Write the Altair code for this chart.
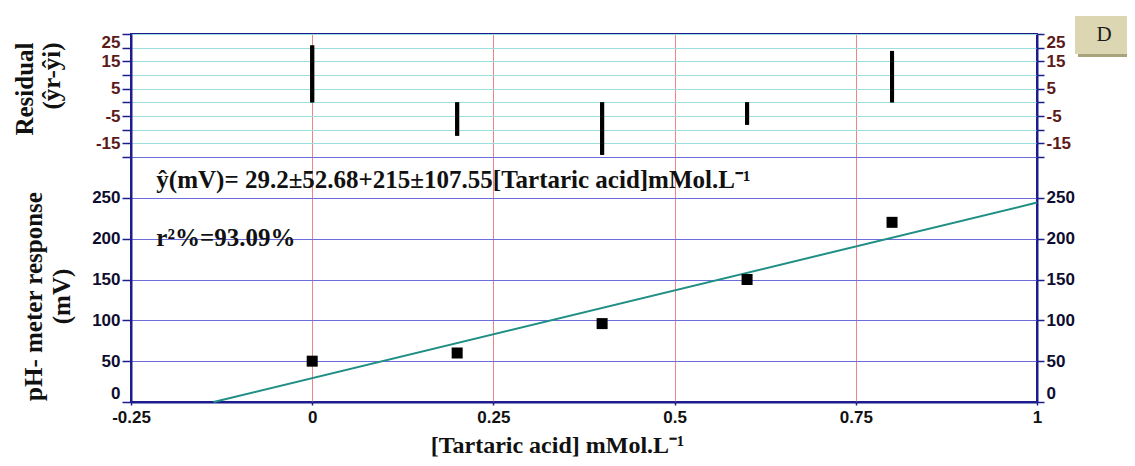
import altair as alt
import pandas as pd

# ---- data ----
conc = [0.0, 0.2, 0.4, 0.6, 0.8]
response = [50, 60, 96, 150, 220]
residual = [20.8, -12.2, -19.2, -8.2, 18.8]
fit_x = [-0.136, 1.0]
fit_y = [0.0, 244.2]

x_ticks = [-0.25, 0, 0.25, 0.5, 0.75, 1]
resp_ticks = [0, 50, 100, 150, 200, 250, 300]
res_ticks = [-15, -10, -5, 0, 5, 10, 15, 20, 25]

eq_text = "ŷ(mV)= 29.2±52.68+215±107.55[Tartaric acid]mMol.L⁻¹"
r2_text = "r²%=93.09%"
text_x = [-0.215, -0.215]
text_y = [262, 191]

W, H = 906, 368
TOP_H = 123

AX = "#1c1c8c"
SERIF = "Liberation Serif"
SANS = "Liberation Sans"

pts_df = pd.DataFrame({"conc": conc, "resp": response})
res_df = pd.DataFrame({"conc": conc, "res": residual})
fit_df = pd.DataFrame({"fx": fit_x, "fy": fit_y})
txt_df = pd.DataFrame({"tx": text_x, "ty": text_y, "label": [eq_text, r2_text]})
xt_df = pd.DataFrame({"v": x_ticks})
tag_df = pd.DataFrame({"tag": ["D"]})

x_scale = alt.Scale(domain=[-0.25, 1], nice=False, zero=False)
resp_scale = alt.Scale(domain=[0, 300], range=[H, TOP_H], nice=False, zero=False)
res_scale = alt.Scale(domain=[-20, 25], range=[TOP_H, 0], nice=False, zero=False)

common = dict(domainColor=AX, domainWidth=2, tickColor=AX, tickWidth=1.5,
              labelFont=SANS, labelFontWeight="bold", labelFontSize=17,
              labelOverlap=False)

x_axis = alt.Axis(orient="bottom", values=x_ticks, labelExpr="toString(datum.value)",
                  grid=True, gridColor="#f08585", gridWidth=1, tickSize=3,
                  labelPadding=4, labelColor="#111111", labelFlush=False,
                  title="[Tartaric acid] mMol.L⁻¹",
                  titleFont=SERIF, titleFontSize=24, titleFontWeight="bold",
                  titleColor="#111111", titleX=426, titleY=50, titleAlign="center",
                  titleBaseline="alphabetic", **common)

resp_left = alt.Axis(orient="left", values=resp_ticks,
                     labelExpr="datum.value > 250 ? '' : toString(datum.value)",
                     grid=True, gridColor="#6c6cdc", gridWidth=1, tickSize=9,
                     labelPadding=2, labelColor="#0d0d30", labelFlush=True,
                     title=["pH- meter response", "(mV)"], titleFont=SERIF,
                     titleFontSize=25, titleFontWeight="bold", titleColor="#111111",
                     titleAngle=270, titleX=-90, titleY=262, titleAlign="center",
                     titleBaseline="alphabetic", titleLineHeight=28, **common)
resp_right = alt.Axis(orient="right", values=resp_ticks,
                      labelExpr="datum.value > 250 ? '' : toString(datum.value)",
                      grid=False, tickSize=7, labelPadding=2, labelColor="#0d0d30",
                      labelFlush=True, title=None, **common)

res_label_expr = "abs(datum.value) % 10 == 5 ? toString(datum.value) : ''"
res_left = alt.Axis(orient="left", values=res_ticks, labelExpr=res_label_expr,
                    grid=True, gridColor="#9adede", gridWidth=1, tickSize=9,
                    labelPadding=2, labelColor="#5c1a1a", labelFlush=True,
                    title=["Residual", "(ŷr-ŷi)"], titleFont=SERIF,
                    titleFontSize=25, titleFontWeight="bold", titleColor="#111111",
                    titleAngle=270, titleX=-99, titleY=8, titleAlign="right",
                    titleBaseline="alphabetic", titleLineHeight=27, **common)
res_right = alt.Axis(orient="right", values=res_ticks, labelExpr=res_label_expr,
                     grid=False, tickSize=7, labelPadding=2, labelColor="#5c1a1a",
                     labelFlush=True, title=None, **common)

grid_layer = alt.Chart(xt_df).mark_point(opacity=0).encode(
    x=alt.X("v:Q", scale=x_scale, axis=x_axis))

line = alt.Chart(fit_df).mark_line(color="#1f8f85", strokeWidth=2).encode(
    x=alt.X("fx:Q", scale=x_scale, axis=None),
    y=alt.Y("fy:Q", scale=resp_scale, axis=resp_right))

pts = alt.Chart(pts_df).mark_square(size=121, color="black", opacity=1).encode(
    x=alt.X("conc:Q", scale=x_scale, axis=None),
    y=alt.Y("resp:Q", scale=resp_scale, axis=resp_left))

bars_l = alt.Chart(res_df).mark_rule(strokeWidth=4, color="black").encode(
    x=alt.X("conc:Q", scale=x_scale, axis=None),
    y=alt.Y("res:Q", scale=res_scale, axis=res_left),
    y2=alt.datum(0))

bars_r = alt.Chart(res_df).mark_rule(strokeWidth=4, color="black").encode(
    x=alt.X("conc:Q", scale=x_scale, axis=None),
    y=alt.Y("res:Q", scale=res_scale, axis=res_right),
    y2=alt.datum(0))

texts = alt.Chart(txt_df).mark_text(align="left", baseline="alphabetic", font=SERIF,
                                    fontWeight="bold", fontSize=25, color="#111111").encode(
    x=alt.X("tx:Q", scale=x_scale, axis=None),
    y=alt.Y("ty:Q", scale=resp_scale, axis=None),
    text="label:N")

tag_shadow = alt.Chart(tag_df).mark_rect(color="#a9a37c").encode(
    x=alt.value(947), x2=alt.value(1004), y=alt.value(-15), y2=alt.value(23))
tag_box = alt.Chart(tag_df).mark_rect(color="#dcd7b2").encode(
    x=alt.value(944), x2=alt.value(1001), y=alt.value(-18), y2=alt.value(20))
tag_text = alt.Chart(tag_df).mark_text(font=SERIF, fontSize=21, color="#1a1a1a",
                                       baseline="middle", align="center").encode(
    x=alt.value(973), y=alt.value(1), text="tag:N")

chart = alt.layer(grid_layer, line, pts, bars_l, bars_r, texts,
                  tag_shadow, tag_box, tag_text).resolve_scale(
    y="independent").resolve_axis(x="independent").properties(
    width=W, height=H,
    autosize=alt.AutoSizeParams(type="none"),
    padding={"left": 123, "top": 26, "right": 90, "bottom": 56},
).configure_view(stroke=AX, strokeWidth=2)

chart.save("out.html", embed_options={"renderer": "svg", "actions": False})
